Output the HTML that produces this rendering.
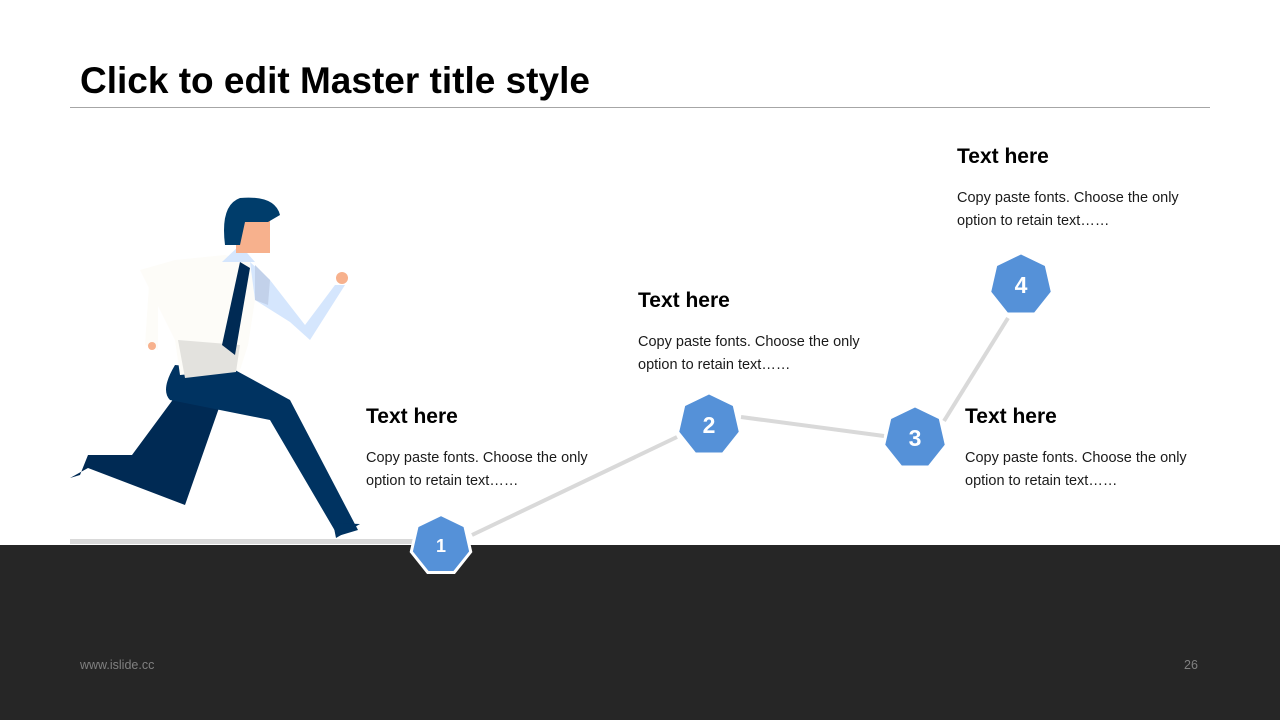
<!DOCTYPE html>
<html><head><style>
body{margin:0;width:1280px;height:720px;overflow:hidden;background:#fff;font-family:"Liberation Sans",Arial,sans-serif;position:relative}
.t{position:absolute;font-weight:bold;font-size:21px;color:#000}
.d{position:absolute;font-size:14.5px;line-height:23px;color:#1a1a1a}
</style></head><body>
<div style="position:absolute;left:80px;top:60px;font-size:37px;font-weight:bold;color:#000">Click to edit Master title style</div>
<div style="position:absolute;left:70px;top:107px;width:1140px;height:1px;background:#a6a6a6"></div>
<div style="position:absolute;left:0;top:545px;width:1280px;height:175px;background:#262626"></div>
<div style="position:absolute;left:80px;top:658px;font-size:12.5px;color:#808080">www.islide.cc</div>
<div style="position:absolute;left:1184px;top:658px;font-size:12.5px;color:#808080">26</div>
<svg width="1280" height="720" style="position:absolute;left:0;top:0">
<rect x="70" y="539" width="345" height="5" fill="#d9d9d9"/>
<g stroke="#d9d9d9" stroke-width="4">
<line x1="472" y1="535" x2="677" y2="437"/><line x1="741" y1="417" x2="884" y2="436"/><line x1="944" y1="421" x2="1008" y2="318"/></g>
<polygon points="132,455 88,455 80,475 70,478 88,468 185,505 220,405 180,390" fill="#002a54"/>
<path d="M175,365 Q160,390 170,400 L270,420 L338,536 L358,530 L290,400 L235,370 Z" fill="#003361"/>
<path d="M333,523 L360,524 L336,538 Z" fill="#003361"/>
<polygon points="150,270 145,345 158,350 158,285" fill="#fdfcf8"/>
<polygon points="225,255 250,262 255,300 248,345 240,370 180,375 175,340 140,270 175,260" fill="#fdfcf8"/>
<polygon points="178,340 240,345 236,372 185,378" fill="#e3e2de"/>
<polygon points="250,262 270,280 305,325 335,285 345,285 310,340 290,322 255,300" fill="#d5e6fd"/>
<polygon points="255,265 270,280 268,305 255,300" fill="#c2d1ea"/>
<polygon points="240,262 250,268 235,355 222,345" fill="#002a54"/>
<polygon points="240,245 255,262 222,262" fill="#d5e6fd"/>
<rect x="236" y="215" width="34" height="38" fill="#f7b18d"/>
<circle cx="342" cy="278" r="6" fill="#f7b18d"/>
<circle cx="152" cy="346" r="4" fill="#f7b18d"/>
<path d="M225,245 Q220,205 240,198 Q275,195 280,215 L268,222 L245,222 L240,245 Z" fill="#003d6b"/>
<defs><polygon id="h" points="0,-30.5 23.85,-19.02 29.73,6.79 13.23,27.48 -13.23,27.48 -29.73,6.79 -23.85,-19.02"/></defs>
<use href="#h" x="441" y="545" fill="#5591d8" stroke="#fff" stroke-width="3"/>
<use href="#h" x="709" y="425" fill="#5591d8"/>
<use href="#h" x="915" y="438" fill="#5591d8"/>
<use href="#h" x="1021" y="285" fill="#5591d8"/>
<g fill="#fff" font-family="Liberation Sans,sans-serif" font-weight="bold" text-anchor="middle">
<text x="441" y="552" font-size="18">1</text><text x="709" y="433" font-size="23">2</text>
<text x="915" y="446" font-size="23">3</text><text x="1021" y="293" font-size="23">4</text></g>
</svg>
<div class="t" style="left:366px;top:405px">Text here</div>
<div class="d" style="left:366px;top:447px">Copy paste fonts. Choose the only<br>option to retain text……</div>
<div class="t" style="left:638px;top:289px">Text here</div>
<div class="d" style="left:638px;top:331px">Copy paste fonts. Choose the only<br>option to retain text……</div>
<div class="t" style="left:965px;top:405px">Text here</div>
<div class="d" style="left:965px;top:447px">Copy paste fonts. Choose the only<br>option to retain text……</div>
<div class="t" style="left:957px;top:145px">Text here</div>
<div class="d" style="left:957px;top:187px">Copy paste fonts. Choose the only<br>option to retain text……</div>
</body></html>
